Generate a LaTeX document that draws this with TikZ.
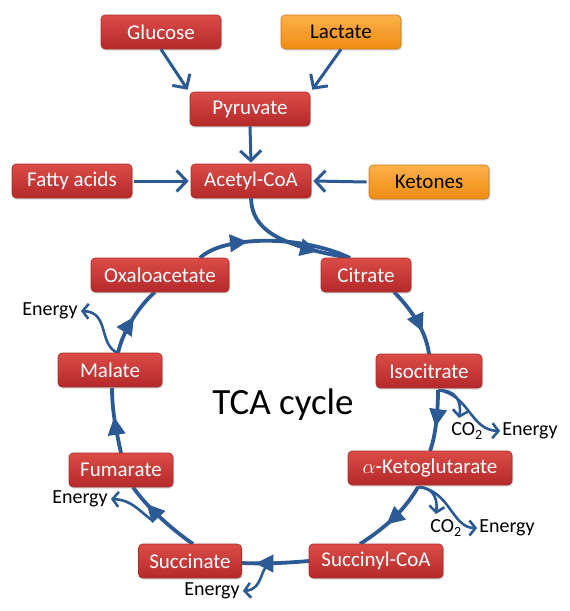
\documentclass[tikz,border=0pt]{standalone}
\usepackage{fontspec}
\setmainfont{Carlito}
\usetikzlibrary{arrows.meta,decorations.markings,shadows}
\definecolor{arr}{HTML}{2C5A95}
\definecolor{redtop}{HTML}{DB4C47}
\definecolor{redbot}{HTML}{B4292A}
\definecolor{redline}{HTML}{A3302D}
\definecolor{ortop}{HTML}{FCB04A}
\definecolor{orbot}{HTML}{EE8C12}
\definecolor{orline}{HTML}{C97A1E}
\tikzset{
  box/.style={rounded corners=4pt, minimum height=34pt, inner sep=0pt, text=white,
    top color=redtop, bottom color=redbot, draw=redline, line width=0.6pt,
    font=\fontsize{21}{24}\selectfont,
    drop shadow={shadow xshift=1pt, shadow yshift=-1.5pt, opacity=0.3}},
  orbox/.style={box, text=black, top color=ortop, bottom color=orbot, draw=orline},
  lbl/.style={inner sep=0pt, font=\fontsize{20}{22}\selectfont},
  feed/.style={draw=arr, line width=3pt, -{Straight Barb[length=10pt,width=21pt]}},
  cyc/.style={draw=arr, line width=3.8pt},
  midarrow/.style={postaction={decorate, decoration={markings,
    mark=at position #1 with {\arrow{Triangle[length=18pt,width=17pt]}}}}},
  enarrow/.style={draw=arr, line width=2.6pt, -{Straight Barb[length=6pt,width=15pt]}}
}
\begin{document}
\begin{tikzpicture}[x=1pt,y=-1pt]
\useasboundingbox (0,0) rectangle (570,611);

\node[box, minimum width=120pt] (glu) at (161,32) {Glucose};
\node[orbox, minimum width=120pt] (lac) at (341,32) {Lactate};
\node[box, minimum width=120pt] (pyr) at (250,109) {Pyruvate};
\node[box, minimum width=120pt] (fat) at (72,181) {Fatty acids};
\node[box, minimum width=120pt] (ace) at (251,181) {Acetyl-CoA};
\node[orbox, minimum width=120pt] (ket) at (429,182) {Ketones};

\node[lbl, font=\fontsize{37}{40}\selectfont] (tca) at (283,405) {TCA cycle};

% labels
\node[lbl] (en1) at (50,311) {Energy};
\node[lbl] (en2) at (80,499) {Energy};
\node[lbl] (en3) at (212,591) {Energy};
\node[lbl] (co1) at (467,431) {CO\textsubscript{2}};
\node[lbl] (ie) at (530,431) {Energy};
\node[lbl] (co2) at (446,528) {CO\textsubscript{2}};
\node[lbl] (ke) at (507,528) {Energy};

% coordinates on the cycle for the branches
\coordinate (ib) at (438,390);
\coordinate (ab) at (418,487);
\coordinate (mb) at (118,353);
\coordinate (fb) at (153,521);
\coordinate (sb) at (273,562);

% cycle segments
\draw[cyc, midarrow=0.33] (200,258) .. controls (222,236) and (300,234) .. (350,258);
\draw[cyc, midarrow=0.74] (ace.south) .. controls (252,228) and (275,245) .. (350,258);
\draw[cyc, midarrow=0.68] (394,292) .. controls (410,308) and (426,330) .. (429,354);
\draw[cyc, midarrow=0.6] (ib) .. controls (438,410) and (436,435) .. (430,451);
\draw[cyc, midarrow=0.6] (ab) .. controls (405,510) and (385,528) .. (360,544);
\draw[cyc, midarrow=0.8] (309,561) .. controls (285,563) and (265,564) .. (242,563);
\draw[cyc, midarrow=0.74] (193,544) .. controls (170,528) and (145,505) .. (133,487);
\draw[cyc, midarrow=0.56] (121,453) .. controls (116,430) and (112,410) .. (112,388);
\draw[cyc, midarrow=0.55] (mb) .. controls (123,330) and (140,305) .. (155,292);

% energy branches
\draw[enarrow] (mb) .. controls (98,345) and (110,312) .. ([xshift=3pt]en1.east);
\draw[enarrow] (fb) .. controls (138,510) and (132,500) .. ([xshift=3pt]en2.east);
\draw[enarrow] (sb) .. controls (258,566) and (265,589) .. ([xshift=3pt]en3.east);
\draw[enarrow] (ib) .. controls (455,390) and (462,400) .. (459,418);
\draw[enarrow] (ib) .. controls (470,395) and (470,430) .. ([xshift=-2pt]ie.west);
\draw[enarrow] (ab) .. controls (432,487) and (438,497) .. (436,514);
\draw[enarrow] (ab) .. controls (450,490) and (452,528) .. ([xshift=-2pt]ke.west);

% cycle boxes
\node[box, minimum width=138pt] (oxa) at (160,275) {Oxaloacetate};
\node[box, minimum width=90pt] (cit) at (366,275) {Citrate};
\node[box, minimum width=106pt] (iso) at (429,371) {Isocitrate};
\node[box, minimum width=164pt] (akg) at (430,468) {$\alpha$-Ketoglutarate};
\node[box, minimum width=134pt] (sca) at (376,561) {Succinyl-CoA};
\node[box, minimum width=103pt] (suc) at (190,561) {Succinate};
\node[box, minimum width=104pt] (fum) at (121,470) {Fumarate};
\node[box, minimum width=104pt] (mal) at (110,370) {Malate};

% feeding arrows
\draw[feed] (glu.south) -- ([xshift=-2pt,yshift=2pt]pyr.north west);
\draw[feed] (lac.south) -- ([xshift=2pt,yshift=2pt]pyr.north east);
\draw[feed] (pyr.south) -- ([yshift=1pt]ace.north);
\draw[feed] ([xshift=2pt]fat.east) -- ([xshift=-2pt]ace.west);
\draw[feed] ([xshift=-2pt]ket.west) -- ([xshift=2pt]ace.east);
\end{tikzpicture}
\end{document}
